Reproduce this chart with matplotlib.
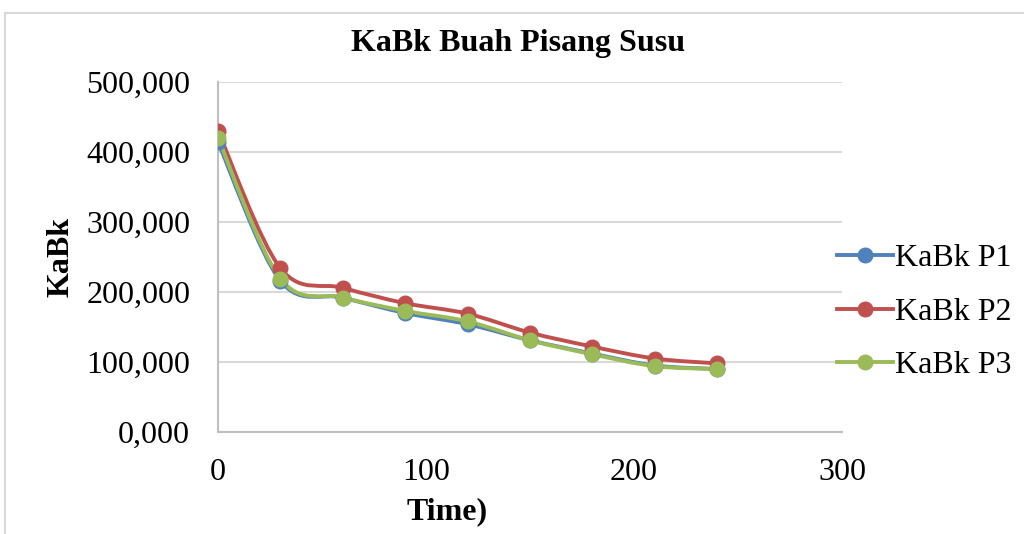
import matplotlib
matplotlib.use("Agg")
import matplotlib.pyplot as plt
from matplotlib.path import Path
from matplotlib.patches import PathPatch, Rectangle
from matplotlib.ticker import FuncFormatter

time = [0, 30, 60, 90, 120, 150, 180, 210, 240]
kabk_p1 = [414, 216, 192, 170, 154, 131, 112, 95, 90]
kabk_p2 = [430, 234, 206, 184, 169, 142, 122, 105, 98]
kabk_p3 = [420, 219, 192, 173, 158, 131, 111, 94, 90]
labels = ['KaBk P1', 'KaBk P2', 'KaBk P3']
colors = ['#4F81BD', '#C0504D', '#9BBB59']


def smooth_path(xs, ys):
    # Catmull-Rom style bezier through every point, like office "smoothed line"
    pts = list(zip(xs, ys))
    verts = [pts[0]]
    codes = [Path.MOVETO]
    n = len(pts)
    for i in range(n - 1):
        p0 = pts[i - 1] if i > 0 else pts[i]
        p1 = pts[i]
        p2 = pts[i + 1]
        p3 = pts[i + 2] if i + 2 < n else pts[i + 1]
        c1 = (p1[0] + (p2[0] - p0[0]) / 6, p1[1] + (p2[1] - p0[1]) / 6)
        c2 = (p2[0] - (p3[0] - p1[0]) / 6, p2[1] - (p3[1] - p1[1]) / 6)
        verts += [c1, c2, p2]
        codes += [Path.CURVE4] * 3
    return Path(verts, codes)


def main():
    plt.rcParams['font.family'] = ['Liberation Serif', 'DejaVu Serif']
    fig = plt.figure(figsize=(10.24, 5.34), dpi=100)
    fig.patches.append(Rectangle((5 / 1024, -0.1), 1.2, 0.1 + 1 - 13 / 534,
                                 transform=fig.transFigure, fill=False,
                                 edgecolor='#D9D9D9', linewidth=1.5))
    ax = fig.add_axes([218 / 1024, 1 - 432 / 534, 624 / 1024, 350 / 534])

    for series, label, color in zip([kabk_p1, kabk_p2, kabk_p3], labels, colors):
        ax.add_patch(PathPatch(smooth_path(time, series), fill=False,
                               edgecolor=color, linewidth=2.8, zorder=3))
        ax.plot(time, series, linestyle='none', marker='o', markersize=10.5,
                color=color, zorder=4)
        ax.plot([], [], color=color, linewidth=2.8, marker='o',
                markersize=10.5, label=label)

    ax.set_xlim(0, 300)
    ax.set_ylim(0, 500)
    ax.set_xticks([0, 100, 200, 300])
    ax.set_yticks([0, 100, 200, 300, 400, 500])
    ax.yaxis.set_major_formatter(
        FuncFormatter(lambda v, pos: f"{v:.3f}".replace('.', ',')))
    ax.grid(axis='y', color='#D9D9D9', linewidth=1.5)
    ax.set_axisbelow(True)
    for side in ['top', 'right']:
        ax.spines[side].set_visible(False)
    for side in ['left', 'bottom']:
        ax.spines[side].set_color('#BFBFBF')
        ax.spines[side].set_linewidth(1.5)
    ax.tick_params(length=0, labelsize=23)
    ax.tick_params(axis='y', pad=20)
    ax.tick_params(axis='x', pad=19)

    ax.set_title('KaBk Buah Pisang Susu', fontsize=23, fontweight='bold',
                 pad=22, x=(518 - 218) / 624)
    ax.set_xlabel('Time)', fontsize=23, fontweight='bold', labelpad=10)
    ax.xaxis.set_label_coords((447 - 218) / 624, -0.185)
    ax.set_ylabel('KaBk', fontsize=23, fontweight='bold', labelpad=8)

    fig.legend(loc='center left', bbox_to_anchor=(824 / 1024, 1 - 312 / 534),
               frameon=False, fontsize=23, handlelength=1.75,
               handletextpad=0.08, labelspacing=0.75, borderaxespad=0)

    fig.savefig('out.png', dpi=100)


if __name__ == "__main__":
    main()
